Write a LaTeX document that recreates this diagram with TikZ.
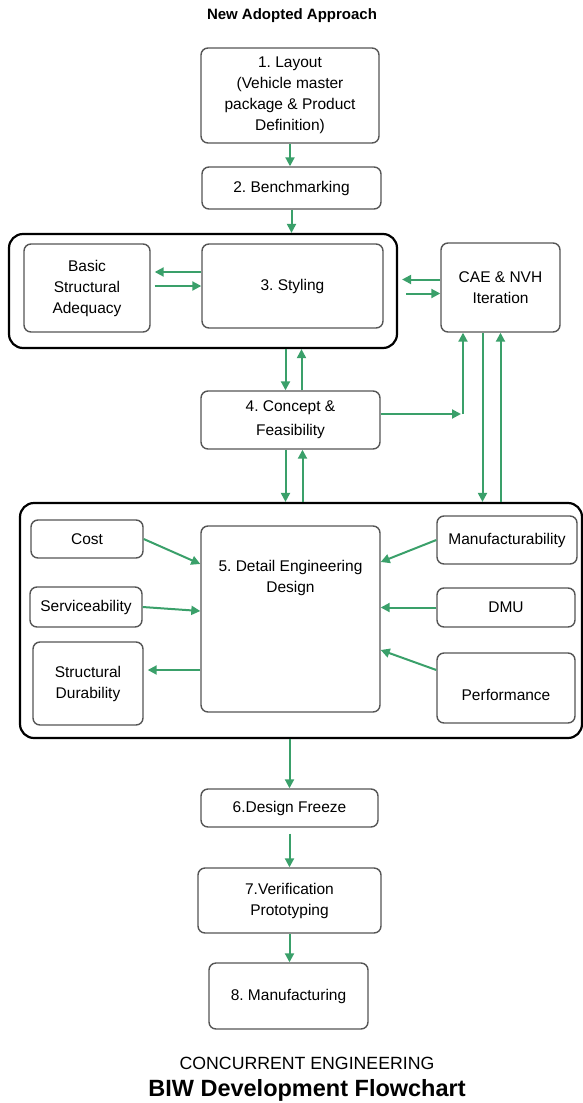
\documentclass[tikz,border=0pt]{standalone}
\usepackage{fontspec}
\setmainfont{Liberation Sans}
\frenchspacing
\usetikzlibrary{arrows.meta}
\definecolor{flowgreen}{RGB}{58,160,106}
\definecolor{boxgray}{RGB}{85,85,85}
\tikzset{
    stage/.style={draw=boxgray, line width=1.4pt, rounded corners=7pt, align=center,
        inner sep=2pt, font=\fontsize{15.5}{21}\selectfont},
    group/.style={draw=black, line width=2.2pt, rounded corners=14pt, inner sep=0pt},
    flow/.style={draw=flowgreen, line width=2pt, -{Triangle[length=9pt,width=9pt]}},
}
\begin{document}
\begin{tikzpicture}[x=1pt, y=-1pt]
    \useasboundingbox (0,0) rectangle (583,1103);
    % heading
    \node[font=\bfseries\fontsize{15}{18}\selectfont] (title) at (292,16) {New Adopted Approach};
    % first stages
    \node[stage, minimum width=178pt, minimum height=95pt] (layout) at (290,95.5)
        {1. Layout\\(Vehicle master\\package \& Product\\Definition)};
    \node[stage, minimum width=179pt, minimum height=42pt] (bench) at (291.5,188) {2. Benchmarking};
    % styling group
    \node[group, minimum width=388pt, minimum height=114pt] (groupA) at (203,291) {};
    \node[stage, minimum width=126pt, minimum height=88pt] (basic) at (87,288)
        {Basic\\Structural\\Adequacy};
    \node[stage, minimum width=181pt, minimum height=84pt] (styling) at (292.5,286) {3. Styling};
    \node[stage, minimum width=119pt, minimum height=89pt] (cae) at (500.5,287.5)
        {CAE \& NVH\\Iteration};
    \node[stage, minimum width=179pt, minimum height=58pt, font=\fontsize{15.5}{24}\selectfont]
        (concept) at (290.5,420) {4. Concept \&\\Feasibility};
    % detail engineering group
    \node[group, minimum width=562pt, minimum height=235pt] (groupB) at (301,620.5) {};
    \node[stage, minimum width=112pt, minimum height=38pt] (cost) at (87,539) {Cost};
    \node[stage, minimum width=112pt, minimum height=40pt] (service) at (86,607) {Serviceability};
    \node[stage, minimum width=110pt, minimum height=83pt] (durab) at (88,683.5)
        {Structural\\Durability};
    \node[stage, minimum width=179pt, text height=64pt, text depth=118pt] (detail) at (290.5,619)
        {5. Detail Engineering\\Design};
    \node[stage, minimum width=140pt, minimum height=48pt] (manuf) at (507,540) {Manufacturability};
    \node[stage, minimum width=138pt, minimum height=39pt] (dmu) at (506,607.5) {DMU};
    \node[stage, minimum width=138pt, text height=45pt, text depth=21pt] (perf) at (506,688)
        {Performance};
    % last stages
    \node[stage, minimum width=177pt, minimum height=38pt] (freeze) at (289.5,808) {6.Design Freeze};
    \node[stage, minimum width=183pt, minimum height=65pt] (verif) at (289.5,900.5)
        {7.Verification\\Prototyping};
    \node[stage, minimum width=159pt, minimum height=66pt] (making) at (288.5,996) {8. Manufacturing};
    \node[font=\fontsize{17.7}{20}\selectfont] (concur) at (307,1063) {CONCURRENT ENGINEERING};
    \node[font=\bfseries\fontsize{23.5}{26}\selectfont] (biw) at (307,1090) {BIW Development Flowchart};
    \coordinate (elbow) at (463,414);

    % connectors
    \draw[flow] (layout.south) -- (layout.south |- bench.north);
    \draw[flow] (bench.south) -- (bench.south |- groupA.north);
    \draw[flow, shorten >=4pt] ([yshift=14pt]styling.west) -- ([yshift=14pt]styling.west -| basic.east);
    \draw[flow, shorten <=4pt] (basic.east |- styling) -- (styling.west);
    \draw[flow, shorten >=4pt] ([yshift=8pt]cae.west) -- ([yshift=8pt]cae.west -| groupA.east);
    \draw[flow, shorten <=8pt] ([yshift=-6pt]cae.west -| groupA.east) -- ([yshift=-6pt]cae.west);
    \draw[flow] ([xshift=-5pt]concept.north |- groupA.south) -- ([xshift=-5pt]concept.north);
    \draw[flow] ([xshift=11pt]concept.north) -- ([xshift=11pt]concept.north |- groupA.south);
    \draw[flow, shorten >=2pt] ([yshift=6pt]concept.east) -- (elbow);
    \draw[flow] (elbow) -- (elbow |- cae.south);
    \draw[flow] ([xshift=-18pt]cae.south) -- ([xshift=-18pt]cae.south |- groupB.north);
    \draw[flow] (cae.south |- groupB.north) -- (cae.south);
    \draw[flow] ([xshift=-5pt]concept.south) -- ([xshift=-5pt]concept.south |- groupB.north);
    \draw[flow] ([xshift=12pt]concept.south |- groupB.north) -- ([xshift=12pt]concept.south);
    \draw[flow] (cost.east) -- ([yshift=55pt]detail.west);
    \draw[flow] (service.east) -- ([yshift=8pt]detail.west);
    \draw[flow, shorten >=4pt] ([yshift=-51pt]detail.west) -- ([yshift=-51pt]detail.west -| durab.east);
    \draw[flow] (manuf.west) -- ([yshift=57pt]detail.east);
    \draw[flow] (dmu.west) -- (dmu.west -| detail.east);
    \draw[flow] ([yshift=18pt]perf.west) -- ([yshift=-31pt]detail.east);
    \draw[flow] (freeze.north |- groupB.south) -- (freeze.north);
    \draw[flow, shorten <=6pt] (freeze.south) -- (verif.north);
    \draw[flow] (verif.south) -- (verif.south |- making.north);
\end{tikzpicture}
\end{document}
